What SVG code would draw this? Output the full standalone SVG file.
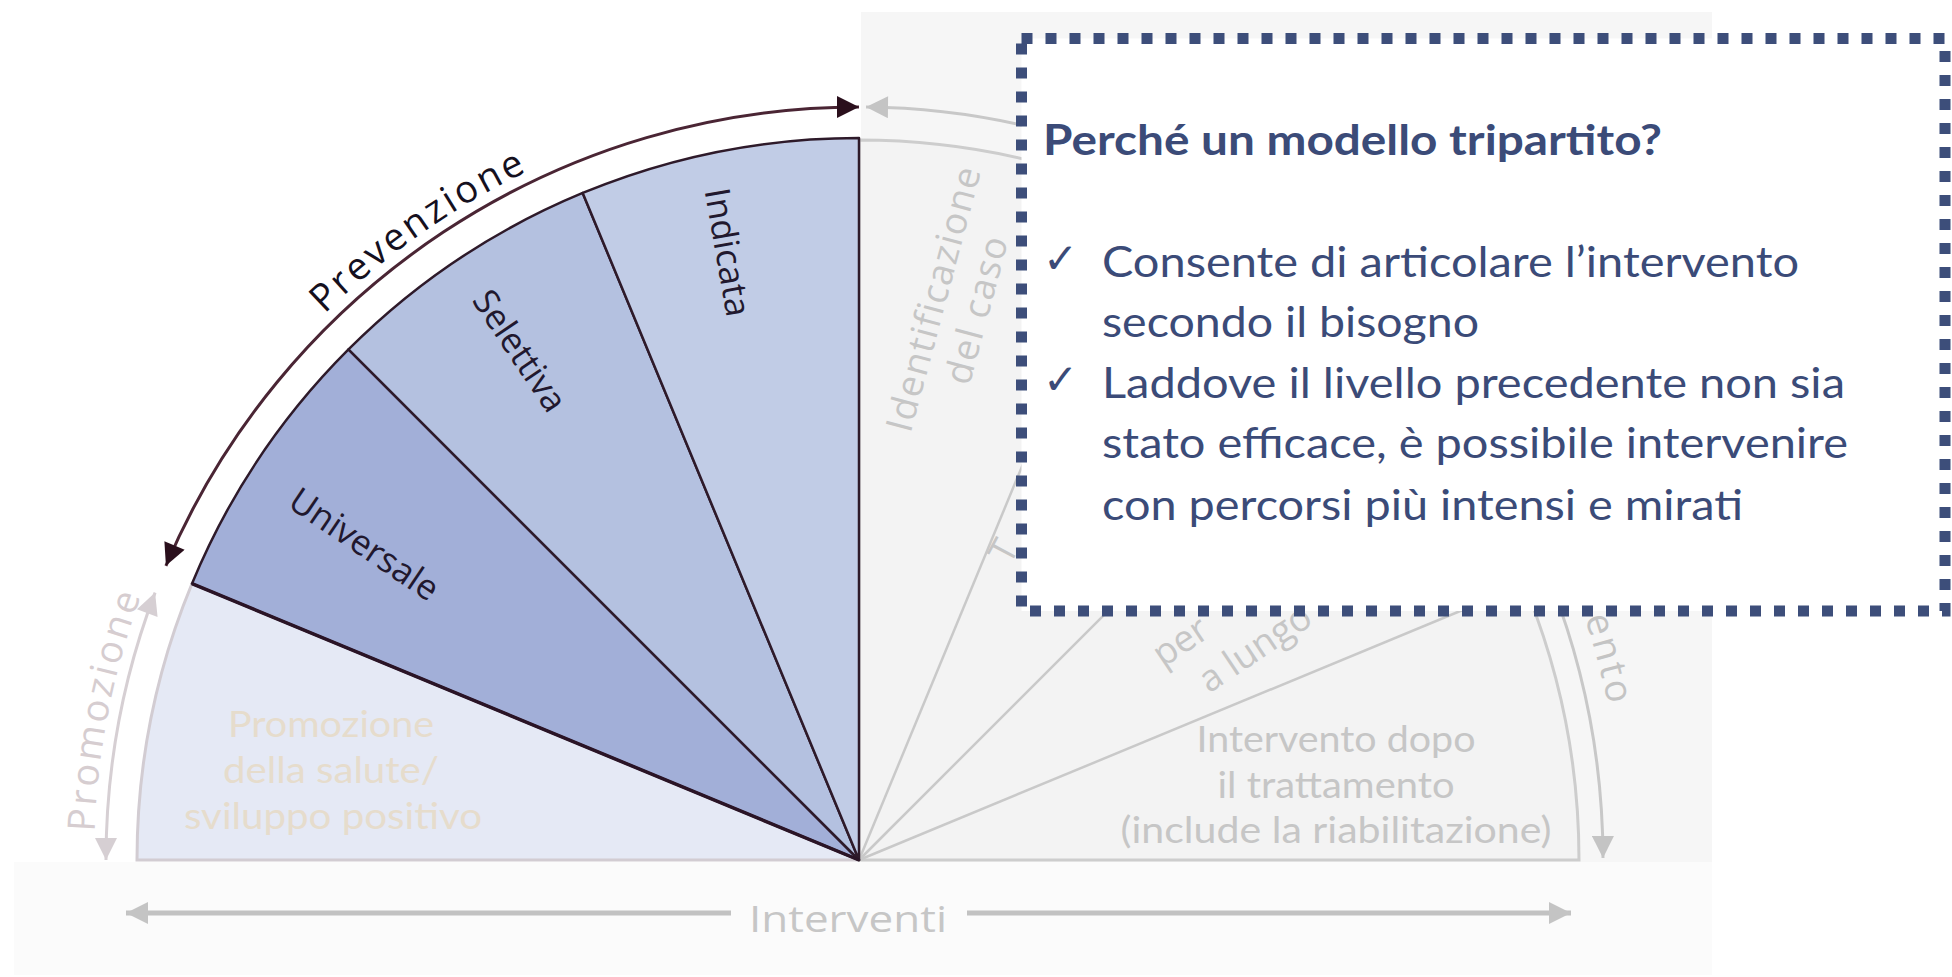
<svg xmlns="http://www.w3.org/2000/svg" width="1952" height="977" viewBox="0 0 1952 977">
  <style>
    .lbl { font-family: "Open Sans", "DejaVu Sans", sans-serif; fill: #21182e; font-size: 35px; }
    .gray { font-family: "Open Sans", "DejaVu Sans", sans-serif; fill: #c6c6c6; font-size: 37px; }
    .grayl { font-family: Lato, "Open Sans", sans-serif; fill: #c6c6c6; font-size: 37px; }
    .beige { font-family: Lato, "Open Sans", sans-serif; fill: #e6dccc; font-size: 36px; }
    .arc { font-family: "Open Sans", "DejaVu Sans", sans-serif; font-size: 38px; letter-spacing: 3px; }
    .boxt { font-family: Lato, "Open Sans", sans-serif; fill: #3b4b78; font-size: 42px; }
    .sec { stroke: #2e1a2a; stroke-width: 2.5; stroke-linejoin: round; }
  </style>
  <defs>
    <marker id="ahDark" viewBox="0 0 10 10" refX="10" refY="5" markerUnits="userSpaceOnUse" markerWidth="26" markerHeight="22" orient="auto-start-reverse">
      <path d="M0,0 L10,5 L0,10 z" fill="#2a0f1c"/>
    </marker>
    <marker id="ahGray" viewBox="0 0 10 10" refX="10" refY="5" markerUnits="userSpaceOnUse" markerWidth="26" markerHeight="22" orient="auto-start-reverse">
      <path d="M0,0 L10,5 L0,10 z" fill="#c4c4c4"/>
    </marker>
    <marker id="ahPink" viewBox="0 0 10 10" refX="10" refY="5" markerUnits="userSpaceOnUse" markerWidth="26" markerHeight="22" orient="auto-start-reverse">
      <path d="M0,0 L10,5 L0,10 z" fill="#d6cfd3"/>
    </marker>
    <path id="pPrev" d="M 141.6 598.6 A 765 765 0 0 1 859 95"/>
    <path id="pProm" d="M 94 860 A 765 765 0 0 1 152.2 567.3"/>
    <path id="pTratt" d="M 1445 368.3 A 765 765 0 0 1 1624 860"/>
  </defs>

  <!-- background -->
  <rect x="0" y="0" width="1952" height="977" fill="#ffffff"/>
  <rect x="14" y="862" width="1698" height="113" fill="#fbfbfb"/>
  <rect x="861" y="12" width="851" height="850" fill="#f6f6f6"/>

  <!-- right (faded) half -->
  <g id="right-fan">
    <path d="M 859 860 L 859 140 A 720 720 0 0 1 1579 860 Z" fill="#f3f3f3" stroke="#cdcdcd" stroke-width="3"/>
    <g stroke="#c9c9c9" stroke-width="2.5">
      <line x1="859" y1="860" x2="1134.5" y2="194.8"/>
      <line x1="859" y1="860" x2="1368.1" y2="350.9"/>
      <line x1="859" y1="860" x2="1524.2" y2="584.5"/>
    </g>
    <text class="gray" font-size="32" letter-spacing="1.5" text-anchor="middle" dominant-baseline="central" transform="translate(932 298) rotate(-75)">Identificazione</text>
    <text class="gray" font-size="32" letter-spacing="1.5" text-anchor="middle" dominant-baseline="central" transform="translate(975 309) rotate(-75)">del caso</text>
    <text class="gray" font-size="32" text-anchor="start" transform="translate(1010 566) rotate(-62)">T</text>
    <text class="gray" font-size="32" transform="translate(1163 668) rotate(-33.75)"><tspan x="0" y="0">per</tspan><tspan x="24" y="47">a lungo</tspan></text>
    <text class="grayl" text-anchor="middle" x="1336" y="752" textLength="279" lengthAdjust="spacingAndGlyphs">Intervento dopo</text>
    <text class="grayl" text-anchor="middle" x="1336" y="798" textLength="237" lengthAdjust="spacingAndGlyphs">il trattamento</text>
    <text class="grayl" text-anchor="middle" x="1336" y="843" textLength="431" lengthAdjust="spacingAndGlyphs">(include la riabilitazione)</text>
    <text class="arc" fill="#c4c4c4"><textPath href="#pTratt" startOffset="334" text-anchor="middle">ento</textPath></text>
  </g>

  <!-- left sectors -->
  <g id="promozione">
    <path d="M 859 860 L 137 860 A 722 722 0 0 1 191.96 583.7 Z" fill="#e5e9f5" stroke="#d2ccd2" stroke-width="3"/>
    <text class="beige" text-anchor="middle" x="331" y="737" textLength="206" lengthAdjust="spacingAndGlyphs">Promozione</text>
    <text class="beige" text-anchor="middle" x="331" y="783" textLength="216" lengthAdjust="spacingAndGlyphs">della salute/</text>
    <text class="beige" text-anchor="middle" x="333" y="829" textLength="298" lengthAdjust="spacingAndGlyphs">sviluppo positivo</text>
  </g>
  <g id="universale">
    <path class="sec" d="M 859 860 L 191.96 583.7 A 722 722 0 0 1 348.47 349.47 Z" fill="#a2afd8"/>
    <text class="lbl" text-anchor="middle" dominant-baseline="central" transform="translate(365 543) rotate(34)">Universale</text>
  </g>
  <g id="selettiva">
    <path class="sec" d="M 859 860 L 348.47 349.47 A 722 722 0 0 1 582.7 192.96 Z" fill="#b4c1e0"/>
    <text class="lbl" text-anchor="middle" dominant-baseline="central" transform="translate(521 350) rotate(56)">Selettiva</text>
  </g>
  <g id="indicata">
    <path class="sec" d="M 859 860 L 582.7 192.96 A 722 722 0 0 1 859 138 Z" fill="#c1cce6"/>
    <text class="lbl" text-anchor="middle" dominant-baseline="central" transform="translate(729 252) rotate(80)">Indicata</text>
  </g>
  <line x1="859" y1="860" x2="191.96" y2="583.7" stroke="#2a1426" stroke-width="3.5"/>

  <!-- connectors / arrows -->
  <g id="connectors" fill="none">
    <path d="M 165.9 565.8 A 753 753 0 0 1 859 107" stroke="#4a2534" stroke-width="3" marker-start="url(#ahDark)" marker-end="url(#ahDark)"/>
    <path d="M 866 107 A 744 753 0 0 1 1603 858" stroke="#c8c8c8" stroke-width="3" marker-start="url(#ahGray)" marker-end="url(#ahGray)"/>
    <path d="M 106 860 A 753 753 0 0 1 155.1 592.6" stroke="#d6cfd3" stroke-width="3" marker-start="url(#ahPink)" marker-end="url(#ahPink)"/>
    <line x1="126" y1="913" x2="731" y2="913" stroke="#c2c2c2" stroke-width="5" marker-start="url(#ahGray)"/>
    <line x1="967" y1="913" x2="1571" y2="913" stroke="#c2c2c2" stroke-width="5" marker-end="url(#ahGray)"/>
  </g>

  <!-- arc labels -->
  <g id="arc-labels">
    <text class="arc" fill="#15101e"><textPath href="#pPrev" startOffset="50%" text-anchor="middle">Prevenzione</textPath></text>
    <text class="arc" fill="#d6cdd0"><textPath href="#pProm" startOffset="50%" text-anchor="middle">Promozione</textPath></text>
    <text class="gray" fill="#b3b3b3" font-size="42" x="749" y="932" textLength="198" lengthAdjust="spacingAndGlyphs">Interventi</text>
  </g>

  <!-- text box -->
  <g id="textbox">
    <rect x="1021.5" y="38.5" width="923.5" height="572.5" fill="#ffffff" stroke="#3d4e7a" stroke-width="11" stroke-dasharray="11 13"/>
    <text class="boxt" font-weight="bold" x="1043" y="155" textLength="619" lengthAdjust="spacingAndGlyphs">Perché un modello tripartito?</text>
    <text class="boxt" font-family="DejaVu Sans, sans-serif" font-size="36" x="1043" y="273">✓</text>
    <text class="boxt" x="1102" y="277" textLength="697" lengthAdjust="spacingAndGlyphs">Consente di articolare l’intervento</text>
    <text class="boxt" x="1102" y="337" textLength="377" lengthAdjust="spacingAndGlyphs">secondo il bisogno</text>
    <text class="boxt" font-family="DejaVu Sans, sans-serif" font-size="36" x="1043" y="394">✓</text>
    <text class="boxt" x="1102" y="398" textLength="743" lengthAdjust="spacingAndGlyphs">Laddove il livello precedente non sia</text>
    <text class="boxt" x="1102" y="458" textLength="746" lengthAdjust="spacingAndGlyphs">stato efficace, è possibile intervenire</text>
    <text class="boxt" x="1102" y="520" textLength="641" lengthAdjust="spacingAndGlyphs">con percorsi più intensi e mirati</text>
  </g>
</svg>
